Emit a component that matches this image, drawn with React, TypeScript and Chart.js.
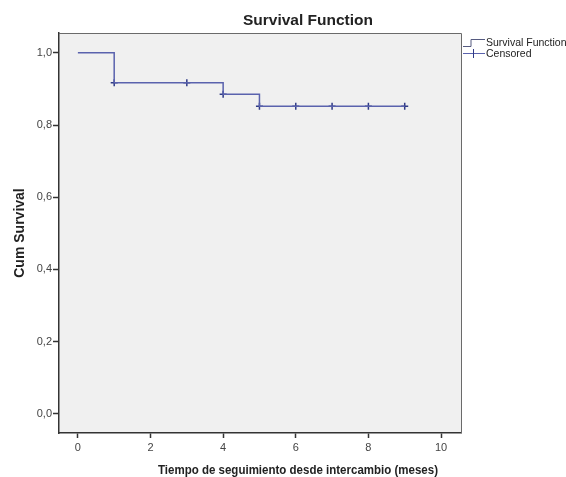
import React, { useEffect, useRef } from "react";
import { Chart, registerables } from "chart.js";

Chart.register(...registerables);

const chartTitle = "Survival Function";
const xAxisTitle = "Tiempo de seguimiento desde intercambio (meses)";
const yAxisTitle = "Cum Survival";
const legendLabels = ["Survival Function", "Censored"];

// Kaplan-Meier step function (time, cumulative survival)
const stepTimes = [0, 1, 4, 5, 9];
const stepSurvival = [1.0, 0.917, 0.885, 0.852, 0.852];

// Censored observations
const censorTimes = [1, 3, 4, 5, 6, 7, 8, 9];
const censorSurvival = [0.917, 0.917, 0.885, 0.852, 0.852, 0.852, 0.852, 0.852];

const xTicks = [0, 2, 4, 6, 8, 10];
const yTicks = [0, 0.2, 0.4, 0.6, 0.8, 1.0];

const FONT = "'Liberation Sans', Arial, sans-serif";
const LINE_COLOR = "#5a62ad";
const CENSOR_COLOR = "#2f3a86";

const decorations = {
  id: "spssDecor",
  beforeDraw(chart: any) {
    const { ctx, chartArea } = chart;
    ctx.save();
    ctx.fillStyle = "#ffffff";
    ctx.fillRect(0, 0, chart.width, chart.height);
    ctx.fillStyle = "#f0f0f0";
    ctx.fillRect(chartArea.left, chartArea.top, chartArea.right - chartArea.left, chartArea.bottom - chartArea.top);
    ctx.restore();
  },
  afterDraw(chart: any) {
    const { ctx, chartArea } = chart;
    ctx.save();
    // frame
    ctx.strokeStyle = "#6a6a6a";
    ctx.lineWidth = 1;
    ctx.beginPath();
    ctx.moveTo(chartArea.left, chartArea.top + 0.5);
    ctx.lineTo(chartArea.right + 0.5, chartArea.top + 0.5);
    ctx.lineTo(chartArea.right + 0.5, chartArea.bottom);
    ctx.stroke();

    // main title
    ctx.fillStyle = "#222222";
    ctx.textAlign = "center";
    ctx.textBaseline = "middle";
    ctx.font = `bold 15.5px ${FONT}`;
    ctx.fillText(chartTitle, 308, 21);

    // x axis title
    ctx.font = `bold 13.5px ${FONT}`;
    ctx.fillText(xAxisTitle, 298, 470, 280);

    // y axis title
    ctx.save();
    ctx.translate(20, (chartArea.top + chartArea.bottom) / 2);
    ctx.rotate(-Math.PI / 2);
    ctx.font = `bold 14px ${FONT}`;
    ctx.fillText(yAxisTitle, 0, 0);
    ctx.restore();

    // legend
    const lx = chartArea.right + 2;
    ctx.lineWidth = 1;
    ctx.strokeStyle = "#555a80";
    ctx.beginPath();
    ctx.moveTo(lx, 46.5);
    ctx.lineTo(lx + 8, 46.5);
    ctx.lineTo(lx + 8, 39.5);
    ctx.lineTo(lx + 22, 39.5);
    ctx.stroke();
    ctx.strokeStyle = LINE_COLOR;
    ctx.beginPath();
    ctx.moveTo(lx, 53.5);
    ctx.lineTo(lx + 22, 53.5);
    ctx.stroke();
    ctx.strokeStyle = CENSOR_COLOR;
    ctx.beginPath();
    ctx.moveTo(lx + 10.5, 49);
    ctx.lineTo(lx + 10.5, 58);
    ctx.stroke();
    ctx.fillStyle = "#222222";
    ctx.textAlign = "left";
    ctx.font = `10.5px ${FONT}`;
    ctx.fillText(legendLabels[0], lx + 23, 43);
    ctx.fillText(legendLabels[1], lx + 23, 54);
    ctx.restore();
  },
};

export default function App() {
  const canvasRef = useRef<HTMLCanvasElement | null>(null);

  useEffect(() => {
    if (!canvasRef.current) return;
    const chart = new Chart(canvasRef.current, {
      type: "scatter",
      data: {
        datasets: [
          {
            label: legendLabels[0],
            data: stepTimes.map((t, i) => ({ x: t, y: stepSurvival[i] })),
            showLine: true,
            stepped: "before",
            borderColor: LINE_COLOR,
            borderWidth: 1.5,
            pointRadius: 0,
            fill: false,
          },
          {
            label: legendLabels[1],
            data: censorTimes.map((t, i) => ({ x: t, y: censorSurvival[i] })),
            showLine: false,
            pointStyle: "cross",
            pointRadius: 3.5,
            borderColor: CENSOR_COLOR,
            borderWidth: 1.5,
          },
        ],
      },
      options: {
        animation: false,
        responsive: false,
        maintainAspectRatio: false,
        layout: { padding: { left: 0, top: 33, right: 105, bottom: 0 } },
        plugins: {
          legend: { display: false },
          title: { display: false },
          tooltip: { enabled: false },
        },
        scales: {
          x: {
            type: "linear",
            min: -0.52,
            max: 10.55,
            afterBuildTicks: (scale: any) => {
              scale.ticks = xTicks.map((v) => ({ value: v }));
            },
            afterFit: (scale: any) => {
              scale.height = 44;
            },
            grid: {
              drawOnChartArea: false,
              drawTicks: true,
              tickLength: 5,
              tickColor: "#333333",
              tickWidth: 1.5,
            },
            border: { display: true, color: "#333333", width: 1.5 },
            ticks: {
              color: "#444444",
              font: { family: FONT, size: 11 },
              padding: 3,
              maxRotation: 0,
              autoSkip: false,
              callback: (v: any) => String(v),
            },
          },
          y: {
            type: "linear",
            min: -0.053,
            max: 1.055,
            afterBuildTicks: (scale: any) => {
              scale.ticks = yTicks.map((v) => ({ value: v }));
            },
            afterFit: (scale: any) => {
              scale.width = 59;
            },
            grid: {
              drawOnChartArea: false,
              drawTicks: true,
              tickLength: 6,
              tickColor: "#333333",
              tickWidth: 1.5,
            },
            border: { display: true, color: "#333333", width: 1.5 },
            ticks: {
              color: "#444444",
              font: { family: FONT, size: 11 },
              padding: 1,
              autoSkip: false,
              callback: (v: any) => Number(v).toFixed(1).replace(".", ","),
            },
          },
        },
      },
      plugins: [decorations],
    });
    return () => chart.destroy();
  }, []);

  return (
    <div style={{ position: "fixed", left: 0, top: 0, width: 566, height: 477, background: "#fff" }}>
      <canvas ref={canvasRef} width={566} height={477} style={{ display: "block" }} />
    </div>
  );
}
